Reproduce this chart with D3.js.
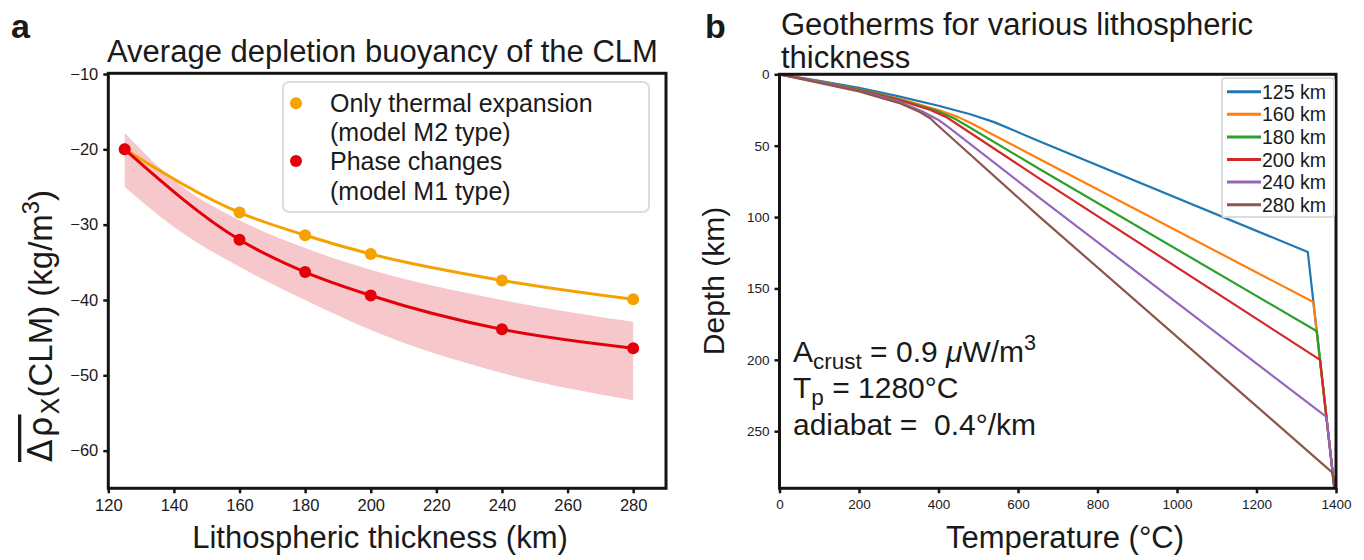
<!DOCTYPE html>
<html><head><meta charset="utf-8">
<script src="https://cdn.jsdelivr.net/npm/d3@7"></script>
<style>
html,body{margin:0;padding:0;background:#fff;}
text{font-family:"Liberation Sans",Arial,Helvetica,sans-serif;fill:#1a1a1a;}
</style></head>
<body>
<svg id="fig" width="1364" height="560"></svg>
<script>
// ---------- Panel a data ----------
const thickness = [125, 160, 180, 200, 240, 280];
const thermalOnly = [-20, -28.4, -31.4, -33.9, -37.4, -39.9];
const phaseChanges = [-20, -32.0, -36.3, -39.4, -43.9, -46.4];
const bandX = [125, 140, 160, 180, 200, 240, 280];
const bandUpper = [-17.8, -24.1, -29.4, -33.1, -36.0, -40.0, -42.9];
const bandLower = [-25.0, -30.3, -35.6, -40.0, -44.0, -49.7, -53.3];
const xTicksA = [120, 140, 160, 180, 200, 220, 240, 260, 280];
const yTicksA = [-10, -20, -30, -40, -50, -60];
const legendA = [["Only thermal expansion", "(model M2 type)"], ["Phase changes", "(model M1 type)"]];

// ---------- Panel b data (temperature °C, depth km) ----------
const geothermNames = ["125 km", "160 km", "180 km", "200 km", "240 km", "280 km"];
const geothermColors = ["#1f77b4", "#ff7f0e", "#2ca02c", "#d62728", "#9467bd", "#8c564b"];
const geo125T = [0, 100, 200, 300, 400, 480, 540, 655, 1329, 1396];
const geo125Z = [0, 4.5, 9.5, 15.5, 22, 28, 33.5, 47, 124.5, 290];
const geo160T = [0, 100, 200, 300, 400, 450, 480, 655, 1343, 1396];
const geo160Z = [0, 5, 10.5, 17, 25, 30, 34, 59.5, 159.5, 290];
const geo180T = [0, 100, 200, 300, 400, 440, 465, 655, 1352, 1396];
const geo180Z = [0, 5, 10.5, 17.5, 26, 31, 35, 66.5, 180, 290];
const geo200T = [0, 100, 200, 300, 380, 420, 450, 655, 1360, 1396];
const geo200Z = [0, 5.2, 11, 18, 25, 30, 35.5, 73.2, 200, 290];
const geo240T = [0, 100, 200, 300, 360, 400, 425, 655, 1376, 1396];
const geo240Z = [0, 5.5, 11.5, 19, 26, 32, 37, 86.7, 240, 290];
const geo280T = [0, 100, 200, 300, 350, 380, 395, 655, 1391, 1396];
const geo280Z = [0, 6, 12, 20, 26, 31, 35, 100, 279, 290];
const xTicksB = [0, 200, 400, 600, 800, 1000, 1200, 1400];
const yTicksB = [0, 50, 100, 150, 200, 250];

const svg = d3.select("#fig");
const ORANGE = "#f5a100", RED = "#e3000b", BAND = "#f7c8cb", FRAME = "#141414";

function rich(parent, x, y, parts, size, opts = {}) {
  const t = parent.append("text")
    .attr("x", x).attr("y", y)
    .attr("font-size", size)
    .attr("text-anchor", opts.anchor || "start")
    .attr("xml:space", "preserve").style("white-space", "pre");
  if (opts.rotate) t.attr("transform", `rotate(${opts.rotate},${x},${y})`);
  if (opts.weight) t.attr("font-weight", opts.weight);
  let shift = 0;
  parts.forEach(p => {
    const o = typeof p === "string" ? { t: p } : p;
    const s = t.append("tspan").text(o.t);
    let target = 0, fs = size;
    if (o.sub) { target = size * 0.22; fs = size * 0.75; }
    if (o.sup) { target = -size * 0.4; fs = size * 0.72; }
    s.attr("font-size", fs).attr("dy", target - shift);
    shift = target;
    if (o.italic) s.attr("font-style", "italic");
    if (o.over) s.style("text-decoration", "overline");
    if (o.family) s.attr("font-family", o.family);
    if (o.ls) s.attr("letter-spacing", o.ls);
  });
  return t;
}

// ================= Panel a =================
const xA = d3.scaleLinear().domain([120, 290]).range([108.3, 666]);
const yA = d3.scaleLinear().domain([-10, -65]).range([74, 488.3]);
const gA = svg.append("g");

// band
const bandData = bandX.map((x, i) => ({ x, lo: bandLower[i], hi: bandUpper[i] }));
gA.append("path").datum(bandData)
  .attr("fill", BAND)
  .attr("d", d3.area().x(d => xA(d.x)).y0(d => yA(d.lo)).y1(d => yA(d.hi)).curve(d3.curveMonotoneX));

const lineA = d3.line().x(d => xA(d[0])).y(d => yA(d[1])).curve(d3.curveMonotoneX);
const orangePts = thickness.map((x, i) => [x, thermalOnly[i]]);
const redPts = thickness.map((x, i) => [x, phaseChanges[i]]);
gA.append("path").datum(orangePts).attr("fill", "none").attr("stroke", ORANGE).attr("stroke-width", 3).attr("d", lineA);
gA.selectAll("circle.o").data(orangePts).join("circle").attr("class", "o")
  .attr("cx", d => xA(d[0])).attr("cy", d => yA(d[1])).attr("r", 6).attr("fill", ORANGE);
gA.append("path").datum(redPts).attr("fill", "none").attr("stroke", RED).attr("stroke-width", 3).attr("d", lineA);
gA.selectAll("circle.r").data(redPts).join("circle").attr("class", "r")
  .attr("cx", d => xA(d[0])).attr("cy", d => yA(d[1])).attr("r", 6).attr("fill", RED);

// axes
const axA_x = gA.append("g").attr("transform", `translate(0,${yA.range()[1]})`)
  .call(d3.axisBottom(xA).tickValues(xTicksA).tickSize(5).tickPadding(6).tickFormat(d3.format("d")));
const axA_y = gA.append("g").attr("transform", `translate(${xA.range()[0]},0)`)
  .call(d3.axisLeft(yA).tickValues(yTicksA).tickSize(5).tickPadding(5).tickFormat(d3.format("d")));
[axA_x, axA_y].forEach(a => {
  a.select(".domain").remove();
  a.selectAll(".tick line").attr("stroke", FRAME).attr("stroke-width", 2.5);
  a.selectAll(".tick text").attr("font-size", 16.5).attr("fill", "#222")
    .attr("font-family", "'Liberation Sans', Arial, sans-serif");
});
gA.append("rect").attr("x", xA.range()[0]).attr("y", 73.3)
  .attr("width", xA.range()[1] - xA.range()[0]).attr("height", yA.range()[1] - 73.3)
  .attr("fill", "none").attr("stroke", FRAME).attr("stroke-width", 3);

// legend a
gA.append("rect").attr("x", 283).attr("y", 82).attr("width", 366).attr("height", 130)
  .attr("rx", 6).attr("fill", "#fff").attr("fill-opacity", 0.85).attr("stroke", "#dcdcdc").attr("stroke-width", 2);
[[ORANGE, 103.3, 111.7], [RED, 161, 170]].forEach((e, i) => {
  gA.append("circle").attr("cx", 296).attr("cy", e[1]).attr("r", 6).attr("fill", e[0]);
  gA.append("text").attr("x", 330).attr("y", e[2]).attr("font-size", 25).text(legendA[i][0]);
  gA.append("text").attr("x", 330).attr("y", e[2] + 29.5).attr("font-size", 25).text(legendA[i][1]);
});

// titles & labels a
rich(svg, 11, 38, ["a"], 34, { weight: "bold" });
rich(svg, 107, 62, ["Average depletion buoyancy of the CLM"], 31);
rich(svg, 380, 548, ["Lithospheric thickness (km)"], 31, { anchor: "middle" });
rich(svg, 52, 326, [{ t: "Δρ", over: true, family: "'DejaVu Sans', sans-serif", ls: 2 }, { t: "X", sub: true, family: "'DejaVu Sans', sans-serif" },
  "(CLM) (kg/m", { t: "3", sup: true }, ")"], 33, { anchor: "middle", rotate: -90 });

// ================= Panel b =================
const xB = d3.scaleLinear().domain([0, 1400]).range([779.5, 1336]);
const yB = d3.scaleLinear().domain([0, 290]).range([74.3, 488.3]);
const gB = svg.append("g");
const geoT = [geo125T, geo160T, geo180T, geo200T, geo240T, geo280T];
const geoZ = [geo125Z, geo160Z, geo180Z, geo200Z, geo240Z, geo280Z];
const lineB = d3.line().x(d => xB(d[0])).y(d => yB(d[1]));
geoT.forEach((T, k) => {
  const pts = T.map((t, i) => [t, geoZ[k][i]]);
  gB.append("path").datum(pts).attr("fill", "none").attr("stroke", geothermColors[k])
    .attr("stroke-width", 2.2).attr("stroke-linejoin", "round").attr("d", lineB);
});

const axB_x = gB.append("g").attr("transform", `translate(0,${yB.range()[1]})`)
  .call(d3.axisBottom(xB).tickValues(xTicksB).tickSize(5).tickPadding(6).tickFormat(d3.format("d")));
const axB_y = gB.append("g").attr("transform", `translate(${xB.range()[0]},0)`)
  .call(d3.axisLeft(yB).tickValues(yTicksB).tickSize(5).tickPadding(5).tickFormat(d3.format("d")));
[axB_x, axB_y].forEach(a => {
  a.select(".domain").remove();
  a.selectAll(".tick line").attr("stroke", FRAME).attr("stroke-width", 2.5);
  a.selectAll(".tick text").attr("font-size", 13.5).attr("fill", "#222")
    .attr("font-family", "'DejaVu Sans', sans-serif");
});
gB.append("rect").attr("x", xB.range()[0]).attr("y", yB.range()[0])
  .attr("width", xB.range()[1] - xB.range()[0]).attr("height", yB.range()[1] - yB.range()[0])
  .attr("fill", "none").attr("stroke", FRAME).attr("stroke-width", 3);

// legend b
gB.append("rect").attr("x", 1222).attr("y", 78).attr("width", 112).attr("height", 139)
  .attr("rx", 3).attr("fill", "#fff").attr("fill-opacity", 0.85).attr("stroke", "#dcdcdc").attr("stroke-width", 2);
geothermNames.forEach((n, i) => {
  const cy = 91.7 + i * 22.6;
  gB.append("line").attr("x1", 1227).attr("x2", 1261).attr("y1", cy).attr("y2", cy)
    .attr("stroke", geothermColors[i]).attr("stroke-width", 3);
  gB.append("text").attr("x", 1262).attr("y", cy + 7).attr("font-size", 19.5).text(n);
});

// annotation
rich(svg, 793, 362, ["A", { t: "crust", sub: true }, " = 0.9 ", { t: "μ", italic: true }, "W/m", { t: "3", sup: true }], 30);
rich(svg, 793, 398, ["T", { t: "p", sub: true }, " = 1280°C"], 30);
rich(svg, 793, 435, ["adiabat =  0.4°/km"], 30);

// titles & labels b
rich(svg, 705, 38, ["b"], 34, { weight: "bold" });
rich(svg, 781, 35, ["Geotherms for various lithospheric"], 31);
rich(svg, 781, 68, ["thickness"], 31);
rich(svg, 1065, 548, ["Temperature (°C)"], 31, { anchor: "middle" });
rich(svg, 724, 281, ["Depth (km)"], 30, { anchor: "middle", rotate: -90 });
</script>
</body></html>
